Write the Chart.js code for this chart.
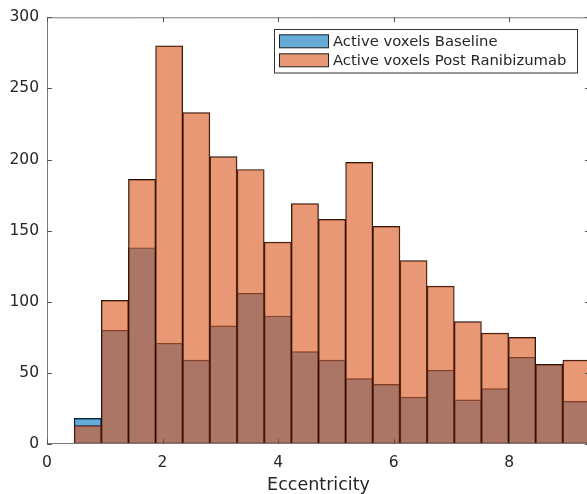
<!DOCTYPE html>
<html>
<head>
<meta charset="utf-8">
<script src="https://cdn.jsdelivr.net/npm/chart.js@4"></script>
<style>
  html, body { margin: 0; padding: 0; background: #fff; overflow: hidden; }
  #wrap { position: relative; width: 600px; height: 494px; }
</style>
</head>
<body>
<div id="wrap"><canvas id="c" width="600" height="494"></canvas></div>
<script>
// ---- data ----
const binCenters = [0.235, 0.705, 1.175, 1.645, 2.115, 2.585, 3.055, 3.525, 3.995, 4.465,
                    4.935, 5.405, 5.875, 6.345, 6.815, 7.285, 7.755, 8.225, 8.695, 9.165];
const baseline   = [0, 18, 80, 138, 71, 59, 83, 106, 90, 65, 59, 46, 42, 33, 52, 31, 39, 61, 56, 30];
const postRanib  = [0, 13, 101, 186, 280, 233, 202, 193, 142, 169, 158, 198, 153, 129, 111, 86, 78, 75, 56, 59];
const xTicks = [0, 2, 4, 6, 8];
const yTicks = [0, 50, 100, 150, 200, 250, 300];
const seriesNames = ['Active voxels Baseline', 'Active voxels Post Ranibizumab'];
const xTitle = 'Eccentricity';

const BLUE = 'rgba(0,114,189,0.6)';
const ORANGE = 'rgba(217,83,25,0.6)';
const FONT = '"DejaVu Sans", sans-serif';
const TXT = '#262626';

const toPts = arr => arr.map((v, i) => ({ x: binCenters[i], y: v }));

const boxPlugin = {
  id: 'boxPlugin',
  afterDatasetsDraw(chart) {
    const ctx = chart.ctx, a = chart.chartArea;
    const xs = chart.scales.x, ys = chart.scales.y;
    ctx.save();
    ctx.strokeStyle = '#7a7a7a';
    ctx.lineWidth = 1;
    ctx.beginPath();
    ctx.rect(a.left + 0.5, a.top + 0.5, a.right - a.left - 1, a.bottom - a.top - 1);
    ctx.stroke();
    ctx.strokeStyle = '#555';
    const tl = 5;
    ctx.beginPath();
    xTicks.forEach(v => {
      const px = Math.round(xs.getPixelForValue(v)) + 0.5;
      ctx.moveTo(px, a.bottom); ctx.lineTo(px, a.bottom - tl);
      ctx.moveTo(px, a.top); ctx.lineTo(px, a.top + tl);
    });
    yTicks.forEach(v => {
      const py = Math.round(ys.getPixelForValue(v)) + 0.5;
      ctx.moveTo(a.left, py); ctx.lineTo(a.left + tl, py);
      ctx.moveTo(a.right, py); ctx.lineTo(a.right - tl, py);
    });
    ctx.stroke();

    // legend
    const lx = 274.5, ly = 29.5, lw = 303, lh = 43.5;
    ctx.fillStyle = '#fff';
    ctx.fillRect(lx, ly, lw, lh);
    ctx.strokeStyle = '#333';
    ctx.strokeRect(lx, ly, lw, lh);
    const rows = [41.3, 60.3];
    const cols = [BLUE, ORANGE];
    ctx.font = '14.8px ' + FONT;
    ctx.textBaseline = 'middle';
    rows.forEach((cy, i) => {
      ctx.fillStyle = '#fff';
      ctx.fillRect(279, cy - 6.5, 50, 13);
      ctx.fillStyle = cols[i];
      ctx.fillRect(279, cy - 6.5, 50, 13);
      ctx.strokeStyle = '#222';
      ctx.strokeRect(279.5, cy - 6.5, 49, 13);
      ctx.fillStyle = TXT;
      ctx.fillText(seriesNames[i], 333, cy + 0.5);
    });
    ctx.restore();
  }
};

new Chart(document.getElementById('c'), {
  type: 'bar',
  data: {
    datasets: [
      { label: seriesNames[0], data: toPts(baseline), backgroundColor: BLUE,
        borderColor: '#111', borderWidth: 0.8, borderSkipped: false, order: 2,
        barPercentage: 1, categoryPercentage: 1, grouped: false },
      { label: seriesNames[1], data: toPts(postRanib), backgroundColor: ORANGE,
        borderColor: '#111', borderWidth: 0.8, borderSkipped: false, order: 1,
        barPercentage: 1, categoryPercentage: 1, grouped: false }
    ]
  },
  options: {
    responsive: false,
    animation: false,
    layout: { padding: { left: 0, top: 16, right: 10, bottom: 0 } },
    plugins: { legend: { display: false }, tooltip: { enabled: false } },
    scales: {
      x: {
        type: 'linear', min: 0, max: 9.4, offset: false,
        grid: { display: false, drawTicks: false },
        border: { display: false },
        afterBuildTicks: s => { s.ticks = xTicks.map(v => ({ value: v })); },
        afterFit: s => { s.height = 50; },
        ticks: { color: TXT, font: { family: FONT, size: 15.5 }, padding: 10, maxRotation: 0 },
        title: { display: true, text: xTitle, color: TXT, font: { family: FONT, size: 17.5 }, padding: { top: 0, bottom: -2 } }
      },
      y: {
        min: 0, max: 300,
        grid: { display: false, drawTicks: false },
        border: { display: false },
        afterBuildTicks: s => { s.ticks = yTicks.map(v => ({ value: v })); },
        afterFit: s => { s.width = 47; },
        ticks: { color: TXT, font: { family: FONT, size: 15.5 }, padding: 8 }
      }
    }
  },
  plugins: [boxPlugin]
});
</script>
</body>
</html>
